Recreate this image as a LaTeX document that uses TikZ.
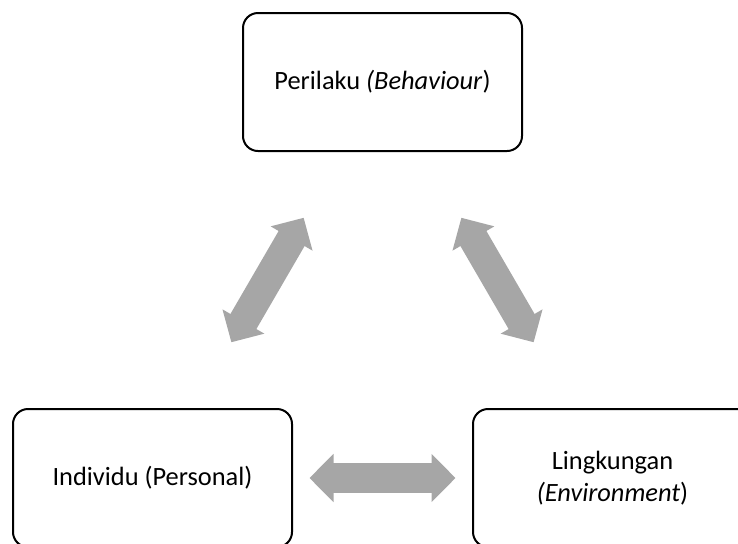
\documentclass[tikz,border=0pt]{standalone}
\usepackage{fontspec}
\setmainfont{Carlito}
\usepackage{tikz}
\usetikzlibrary{positioning, arrows.meta}
\definecolor{arrowgray}{HTML}{A6A6A6}

\tikzset{
  box/.style={draw, line width=1pt, rounded corners=7.5pt,
    minimum width=139.5pt, minimum height=69pt, align=center,
    font=\fontsize{13.2}{16}\selectfont},
  twoway/.style={arrowgray, line width=15pt,
    {Triangle[width=23.5pt,length=12pt]}-{Triangle[width=23.5pt,length=12pt]},
    shorten <=78.5pt, shorten >=78.5pt}
}

\begin{document}
\begin{tikzpicture}[x=0.5pt, y=-0.5pt]
\useasboundingbox (0,0) rectangle (738,543);
\node[box] (perilaku) at (382.5,82) {Perilaku \textit{(Behaviour})};
\node[box] (individu) at (152.5,478) {Individu (Personal)};
\node[box] (lingkungan) at (612.5,478) {Lingkungan\\\textit{(Environment})};
\draw[twoway] (individu.center) -- (perilaku.center);
\draw[twoway] (perilaku.center) -- (lingkungan.center);
\draw[twoway] (individu.center) -- (lingkungan.center);
\end{tikzpicture}
\end{document}
